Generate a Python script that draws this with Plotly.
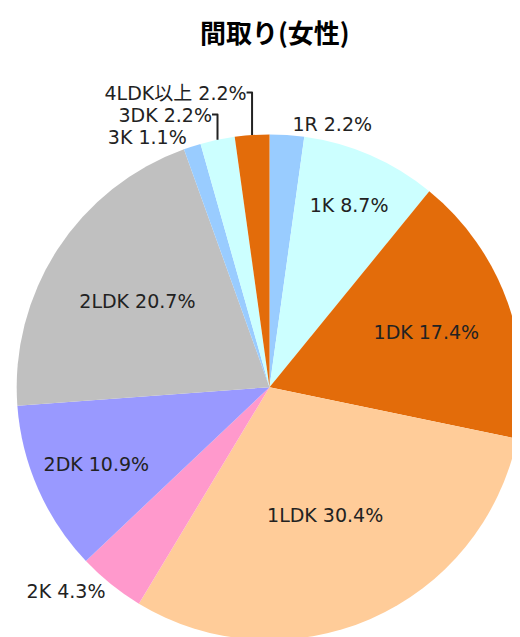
import plotly.graph_objects as go

title_text = "間取り(女性)"
labels = ["1R", "1K", "1DK", "1LDK", "2K", "2DK", "2LDK", "3K", "3DK", "4LDK以上"]
values = [2.2, 8.7, 17.4, 30.4, 4.3, 10.9, 20.7, 1.1, 2.2, 2.2]
colors = ["#99ccff", "#ccffff", "#e36c0a", "#ffcc99", "#ff99cc", "#9999ff",
          "#c0c0c0", "#99ccff", "#ccffff", "#e36c0a"]
positions = ["outside", "inside", "inside", "inside", "outside", "inside",
             "inside", "outside", "outside", "outside"]

W, H = 520, 637
cx, cy, r = 262, 381, 254

FONT = "DejaVu Sans, Noto Sans CJK JP, sans-serif"

fig = go.Figure(go.Pie(
    labels=labels,
    values=values,
    sort=False,
    direction="clockwise",
    rotation=0,
    marker=dict(colors=colors, line=dict(width=0)),
    texttemplate="%{label} %{value:.1f}%",
    textposition=positions,
    insidetextorientation="horizontal",
    textfont=dict(family=FONT, size=19, color="#222222"),
    outsidetextfont=dict(family=FONT, size=19, color="#222222"),
    hoverinfo="label+value",
    showlegend=False,
    domain=dict(x=[(cx - r) / W, (cx + r) / W], y=[1 - (cy + r) / H, 1 - (cy - r) / H]),
))

fig.update_layout(
    width=W, height=H,
    margin=dict(l=0, r=0, t=0, b=0),
    paper_bgcolor="white",
    plot_bgcolor="white",
    annotations=[dict(
        text="<b>" + title_text + "</b>", xref="paper", yref="paper",
        x=268 / W, y=1 - 24 / H, xanchor="center", yanchor="middle", showarrow=False,
        font=dict(family="Noto Sans CJK JP, sans-serif", size=26, color="#000000"),
    )],
)

fig.write_html("out.html")
